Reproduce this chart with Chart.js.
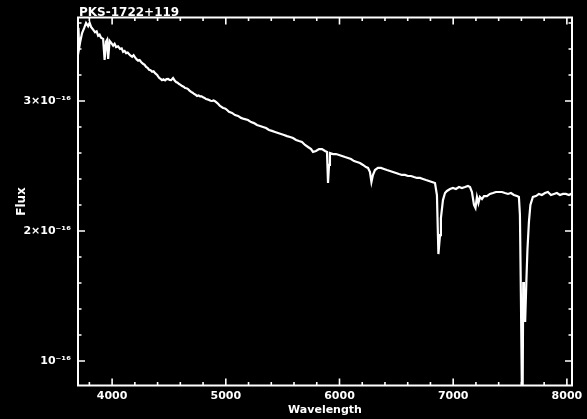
<!DOCTYPE html>
<html>
<head>
<meta charset="utf-8">
<script src="https://cdn.jsdelivr.net/npm/chart.js@4/dist/chart.umd.min.js"></script>
<style>
  body { margin: 0; background: #000; }
  canvas { display: block; }
</style>
</head>
<body>
<canvas id="spectrumChart" width="587" height="419"></canvas>
<script>
// Spectrum of PKS-1722+119, flux in units of 1e-16
const wavelength = [
    3704, 3710, 3719, 3736, 3754, 3771, 3789, 3802, 3815, 3833,
    3850, 3864, 3877, 3890, 3903, 3921, 3934, 3947, 3956, 3965,
    3978, 3991, 4009, 4022, 4035, 4052, 4070, 4084, 4097, 4110,
    4123, 4137, 4150, 4163, 4176, 4189, 4202, 4216, 4229, 4242,
    4255, 4272, 4286, 4299, 4312, 4325, 4338, 4352, 4365, 4378,
    4396, 4413, 4426, 4439, 4452, 4466, 4479, 4492, 4505, 4519,
    4536, 4550, 4563, 4576, 4589, 4602, 4615, 4629, 4642, 4655,
    4668, 4681, 4695, 4708, 4721, 4734, 4747, 4760, 4774, 4787,
    4800, 4813, 4826, 4840, 4853, 4866, 4879, 4892, 4905, 4923,
    4936, 4949, 4962, 4976, 4989, 5002, 5028, 5055, 5081, 5108,
    5134, 5160, 5195, 5222, 5248, 5274, 5301, 5327, 5354, 5380,
    5406, 5433, 5459, 5486, 5512, 5538, 5565, 5591, 5618, 5644,
    5670, 5697, 5723, 5750, 5767, 5793, 5820, 5846, 5873, 5890,
    5899, 5908, 5916, 5943, 5969, 5996, 6022, 6049, 6075, 6101,
    6128, 6154, 6180, 6207, 6233, 6251, 6268, 6281, 6294, 6312,
    6338, 6365, 6391, 6417, 6444, 6470, 6497, 6523, 6549, 6576,
    6602, 6629, 6655, 6681, 6708, 6734, 6761, 6787, 6813, 6840,
    6857, 6870, 6884, 6892, 6910, 6928, 6945, 6972, 6998, 7024,
    7051, 7077, 7104, 7130, 7148, 7165, 7183, 7196, 7209, 7222,
    7235, 7253, 7271, 7297, 7323, 7350, 7376, 7403, 7429, 7455,
    7482, 7508, 7534, 7561, 7578, 7587, 7596, 7604, 7611, 7616,
    7622, 7626, 7633, 7644, 7653, 7666, 7679, 7701, 7728, 7754,
    7780, 7807, 7833, 7860, 7886, 7912, 7939, 7965, 7991, 8018,
    8035, 8045
];
const flux = [
    3.562, 3.408, 3.454, 3.523, 3.560, 3.600, 3.575, 3.602, 3.570, 3.548,
    3.528, 3.535, 3.502, 3.510, 3.486, 3.478, 3.315, 3.456, 3.470, 3.323,
    3.462, 3.448, 3.425, 3.440, 3.415, 3.420, 3.400, 3.405, 3.378, 3.385,
    3.368, 3.372, 3.360, 3.348, 3.340, 3.352, 3.335, 3.320, 3.310, 3.315,
    3.300, 3.286, 3.278, 3.262, 3.255, 3.240, 3.236, 3.224, 3.228, 3.214,
    3.200, 3.178, 3.170, 3.160, 3.166, 3.158, 3.168, 3.170, 3.162, 3.160,
    3.176, 3.158, 3.146, 3.140, 3.130, 3.124, 3.115, 3.110, 3.100, 3.098,
    3.092, 3.080, 3.070, 3.064, 3.054, 3.048, 3.038, 3.042, 3.036, 3.035,
    3.028, 3.024, 3.015, 3.012, 3.008, 3.002, 3.000, 3.004, 2.998, 2.985,
    2.975, 2.962, 2.955, 2.946, 2.944, 2.938, 2.916, 2.908, 2.892, 2.885,
    2.870, 2.862, 2.854, 2.838, 2.830, 2.815, 2.808, 2.800, 2.792, 2.777,
    2.770, 2.762, 2.754, 2.746, 2.738, 2.730, 2.723, 2.715, 2.700, 2.692,
    2.685, 2.662, 2.646, 2.630, 2.608, 2.615, 2.630, 2.630, 2.615, 2.608,
    2.369, 2.508, 2.600, 2.592, 2.592, 2.585, 2.577, 2.569, 2.562, 2.554,
    2.538, 2.531, 2.523, 2.508, 2.492, 2.485, 2.454, 2.377, 2.430, 2.469,
    2.485, 2.485, 2.477, 2.469, 2.462, 2.454, 2.446, 2.438, 2.431, 2.431,
    2.423, 2.423, 2.415, 2.408, 2.408, 2.400, 2.392, 2.385, 2.377, 2.369,
    2.277, 1.823, 1.969, 2.100, 2.238, 2.292, 2.308, 2.323, 2.331, 2.323,
    2.338, 2.331, 2.338, 2.346, 2.338, 2.300, 2.200, 2.177, 2.262, 2.215,
    2.262, 2.246, 2.269, 2.269, 2.285, 2.292, 2.300, 2.300, 2.300, 2.292,
    2.285, 2.292, 2.277, 2.269, 2.262, 2.123, 1.469, 0.780, 0.780, 1.608,
    1.354, 1.546, 1.300, 1.623, 1.854, 2.069, 2.200, 2.262, 2.269, 2.285,
    2.277, 2.292, 2.300, 2.277, 2.285, 2.292, 2.277, 2.285, 2.285, 2.277,
    2.285, 2.280
];

// Axis ticks
const xMajorTicks = [4000, 5000, 6000, 7000, 8000];
const xMinorStep = 200;
const yMajorTicks = [1, 2, 3];
const yTickLabels = ['10⁻¹⁶', '2×10⁻¹⁶', '3×10⁻¹⁶'];
const yMinorStep = 0.2;
const xRange = [3700, 8045];
const yRange = [0.812, 3.642];

const tickFont = { family: 'DejaVu Sans', size: 11, weight: 'bold' };

function isMultiple(v, step) {
    const r = v / step;
    return Math.abs(r - Math.round(r)) < 1e-6;
}

// tick values every minor step inside the axis range
function stepTicks(range, step) {
    const out = [];
    for (let k = Math.ceil(range[0] / step - 1e-6); k * step <= range[1] + 1e-9; k++) {
        out.push({ value: Math.round(k * step * 1000) / 1000 });
    }
    return out;
}

// Boxed frame with inward ticks on all four sides, plus the title
const framePlugin = {
    id: 'frame',
    afterDraw(chart) {
        const ctx = chart.ctx;
        const a = chart.chartArea;
        const xs = chart.scales.x;
        const ys = chart.scales.y;
        ctx.save();
        ctx.strokeStyle = '#fff';
        ctx.lineWidth = 2;
        ctx.strokeRect(a.left, a.top, a.right - a.left, a.bottom - a.top);
        ctx.lineWidth = 1.6;
        ctx.beginPath();
        xs.ticks.forEach(t => {
            const len = isMultiple(t.value, 1000) ? 7 : 3.5;
            const px = xs.getPixelForValue(t.value);
            ctx.moveTo(px, a.bottom); ctx.lineTo(px, a.bottom - len);
            ctx.moveTo(px, a.top); ctx.lineTo(px, a.top + len);
        });
        ys.ticks.forEach(t => {
            const len = isMultiple(t.value, 1) ? 7 : 3.5;
            const py = ys.getPixelForValue(t.value);
            ctx.moveTo(a.left, py); ctx.lineTo(a.left + len, py);
            ctx.moveTo(a.right, py); ctx.lineTo(a.right - len, py);
        });
        ctx.stroke();
        ctx.fillStyle = '#fff';
        ctx.font = 'bold 12px "DejaVu Sans"';
        ctx.textAlign = 'left';
        ctx.textBaseline = 'alphabetic';
        ctx.fillText('PKS-1722+119', a.left + 1, a.top - 1.5);
        ctx.restore();
    }
};

const points = wavelength.map((w, i) => ({ x: w, y: flux[i] }));

new Chart(document.getElementById('spectrumChart'), {
    type: 'line',
    data: {
        datasets: [{
            data: points,
            borderColor: '#fff',
            borderWidth: 2.2,
            pointRadius: 0,
            tension: 0,
            clip: 0
        }]
    },
    options: {
        responsive: false,
        animation: false,
        layout: { padding: { top: 17.5, right: 15, left: 0, bottom: 0 } },
        plugins: {
            legend: { display: false },
            tooltip: { enabled: false }
        },
        scales: {
            x: {
                type: 'linear',
                min: xRange[0],
                max: xRange[1],
                afterBuildTicks(scale) { scale.ticks = stepTicks(xRange, xMinorStep); },
                afterFit(scale) { scale.height = 33.5; },
                grid: { display: false, drawTicks: false },
                border: { display: false },
                ticks: {
                    autoSkip: false,
                    maxRotation: 0,
                    padding: 4,
                    color: '#fff',
                    font: tickFont,
                    callback: v => xMajorTicks.includes(Math.round(v)) ? String(Math.round(v)) : ''
                },
                title: {
                    display: true,
                    text: 'Wavelength',
                    color: '#fff',
                    font: tickFont,
                    padding: { top: 0, bottom: 2 }
                }
            },
            y: {
                type: 'linear',
                min: yRange[0],
                max: yRange[1],
                afterBuildTicks(scale) { scale.ticks = stepTicks(yRange, yMinorStep); },
                afterFit(scale) { scale.width = 78; },
                grid: { display: false, drawTicks: false },
                border: { display: false },
                ticks: {
                    autoSkip: false,
                    padding: 7,
                    color: '#fff',
                    font: tickFont,
                    callback: v => {
                        if (!isMultiple(v, 1)) return '';
                        const i = yMajorTicks.indexOf(Math.round(v));
                        return i >= 0 ? yTickLabels[i] : '';
                    }
                },
                title: {
                    display: true,
                    text: 'Flux',
                    color: '#fff',
                    font: { family: 'DejaVu Sans', size: 12, weight: 'bold' },
                    padding: { top: 15, bottom: 0 }
                }
            }
        }
    },
    plugins: [framePlugin]
});
</script>
</body>
</html>
